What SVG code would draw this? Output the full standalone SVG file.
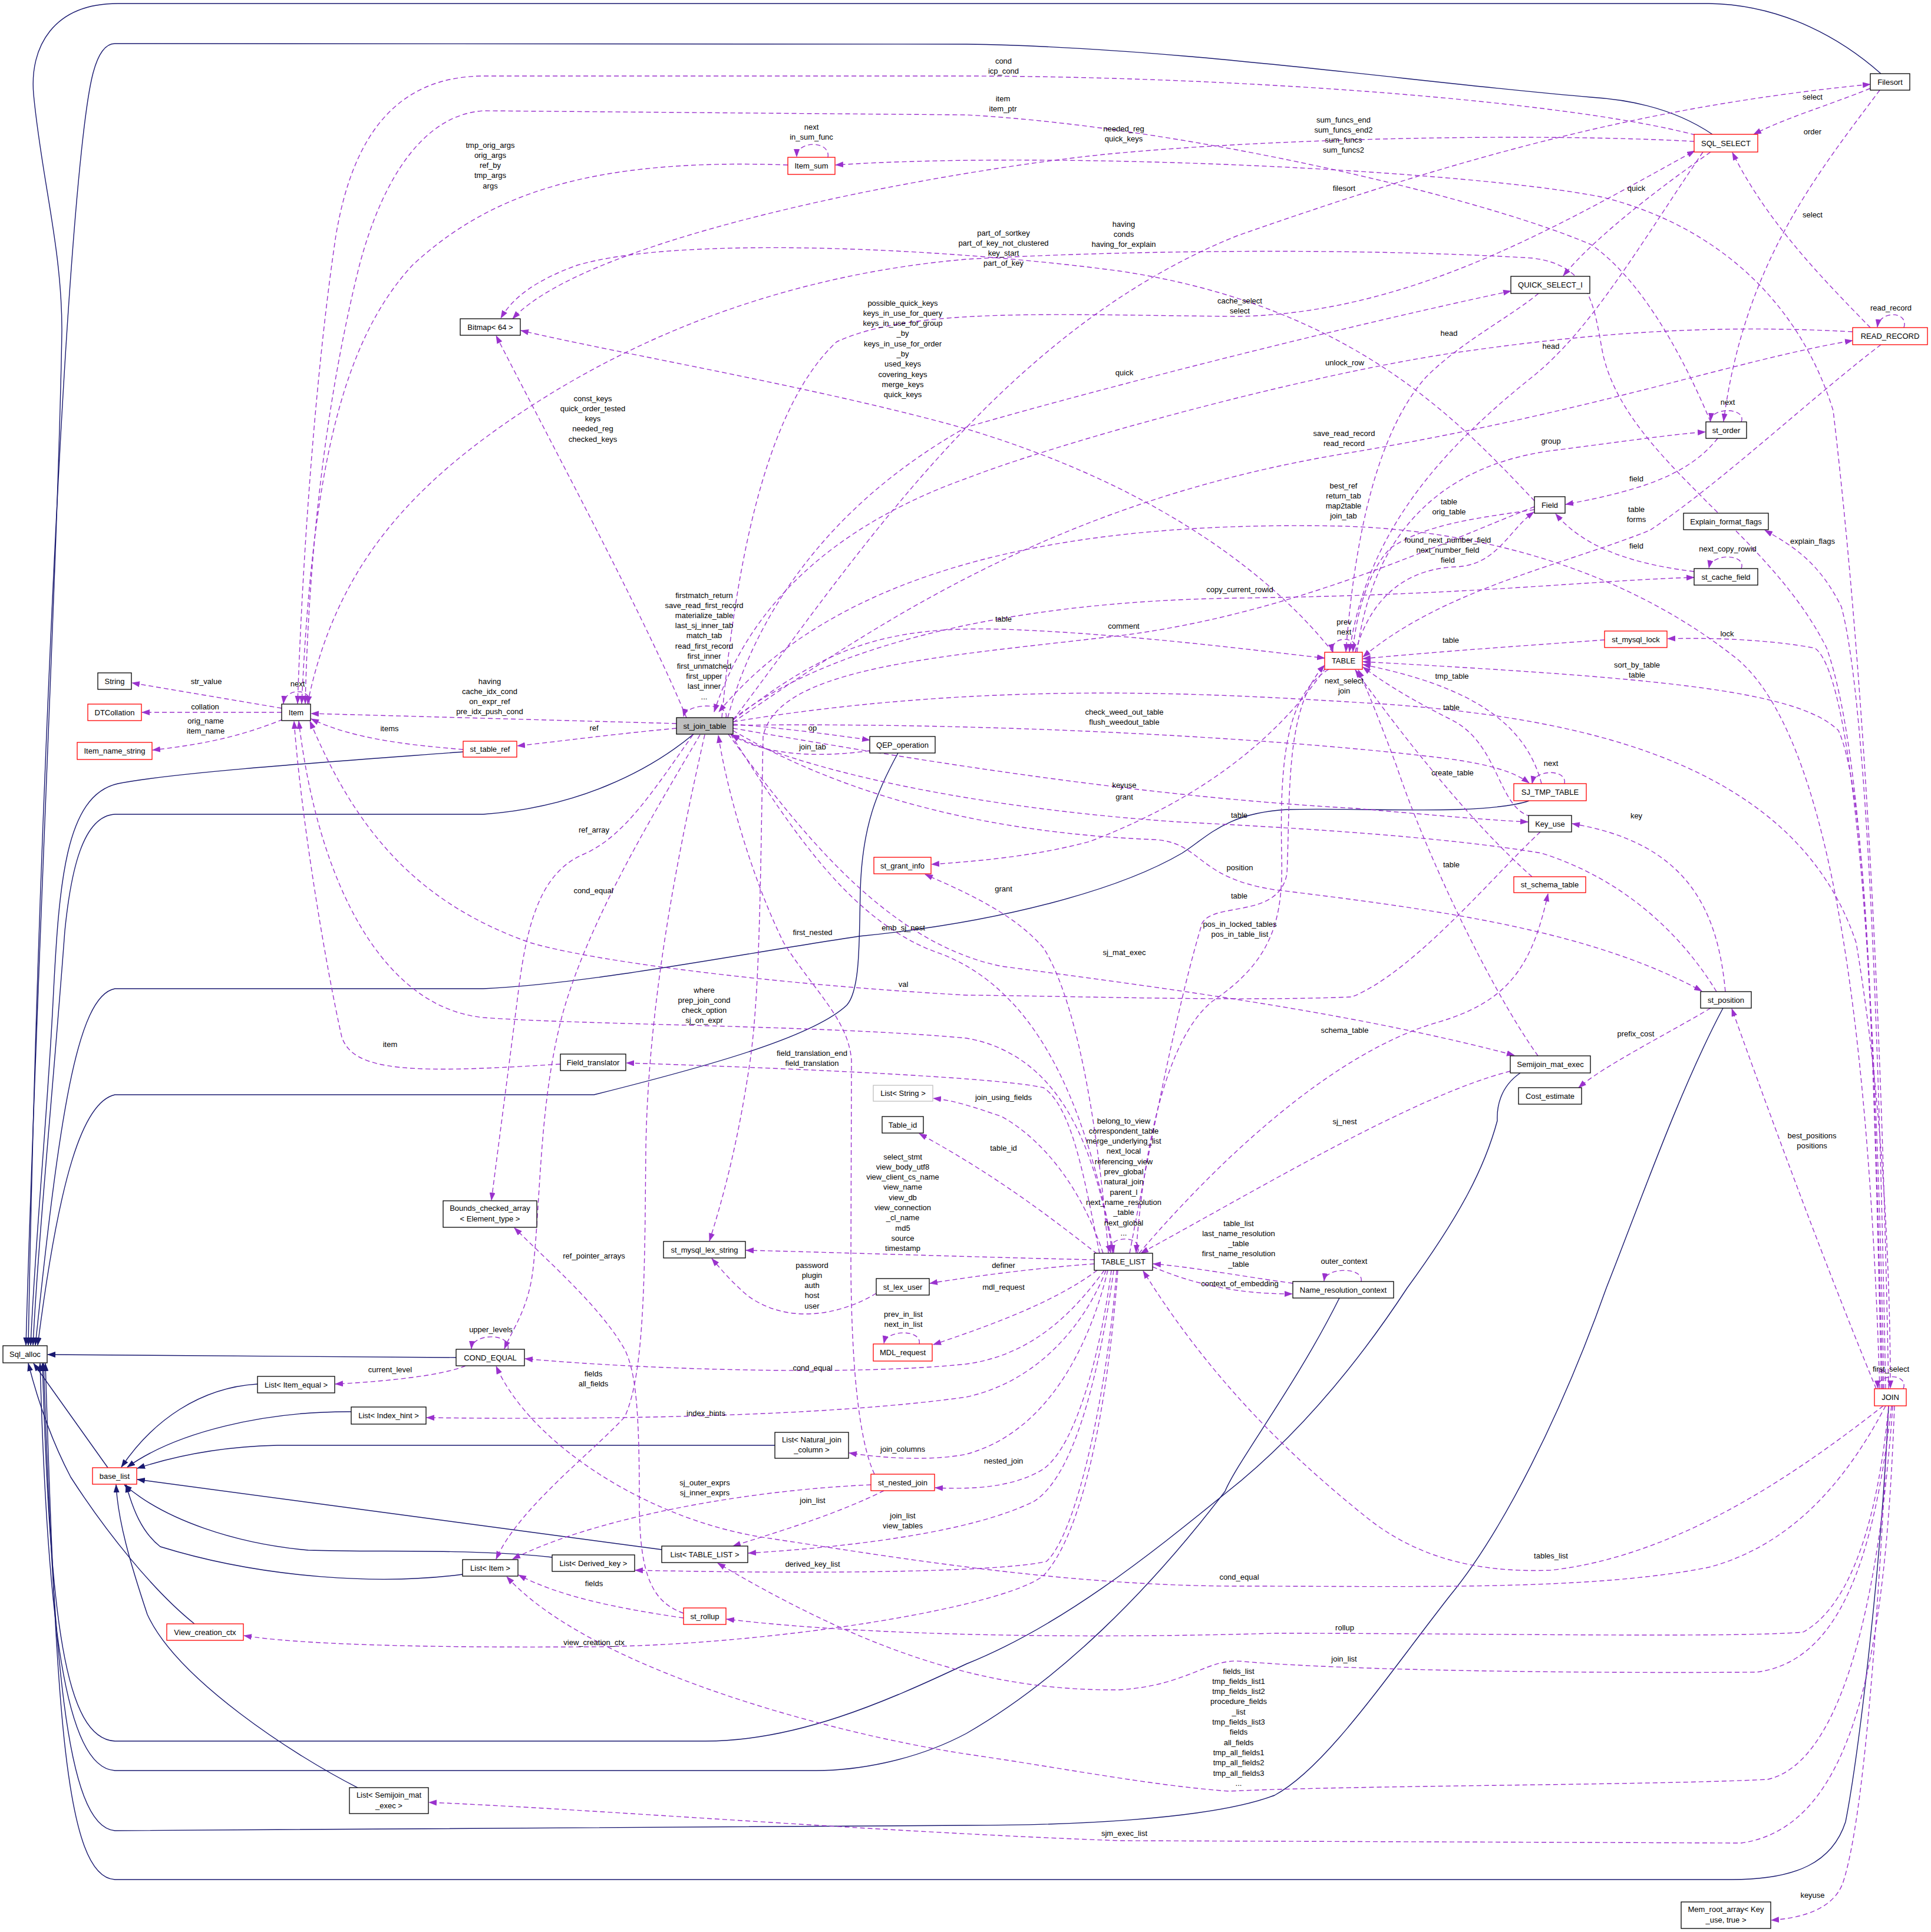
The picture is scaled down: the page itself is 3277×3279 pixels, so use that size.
<svg xmlns="http://www.w3.org/2000/svg" width="3277" height="3279" viewBox="0 0 3277 3279">
<style>
text{font-family:"Liberation Sans",Arial,sans-serif;font-size:13px;fill:#000;text-anchor:middle}
.nb{fill:#fff;stroke:#000;stroke-width:1.3}
.nr{fill:#fff;stroke:#f00;stroke-width:1.3}
.ng{fill:#fff;stroke:#bfbfbf;stroke-width:1.3}
.nf{fill:#bfbfbf;stroke:#000;stroke-width:1.3}
.d{fill:none;stroke:#9a32cd;stroke-width:1.4;stroke-dasharray:8,5;marker-end:url(#ap)}
.s{fill:none;stroke:#191970;stroke-width:1.4;marker-end:url(#an)}
</style>
<defs>
<marker id="ap" markerWidth="14" markerHeight="10" refX="13" refY="5" orient="auto" markerUnits="userSpaceOnUse"><path d="M0,0 L14,5 L0,10 z" fill="#9a32cd" stroke="none"/></marker>
<marker id="an" markerWidth="14" markerHeight="10" refX="13" refY="5" orient="auto" markerUnits="userSpaceOnUse"><path d="M0,0 L14,5 L0,10 z" fill="#191970" stroke="none"/></marker>
</defs>
<rect x="0" y="0" width="3277" height="3279" fill="#fff"/>
<g id="connectors">
<path class="s" d="M 3192 125 C 3130 70, 3030 8, 2900 6 L 200 6 C 90 6, 50 80, 57 160 C 70 300, 105 420, 105 560 C 100 900, 60 1700, 44 2283"/>
<path class="s" d="M 2906 228 C 2850 190, 2780 170, 2700 165 C 2400 140, 2000 80, 1640 75 L 195 74 C 160 74, 150 150, 140 240 C 100 600, 60 1600, 48 2283"/>
<path class="s" d="M 786 1276 C 600 1290, 300 1310, 200 1330 C 110 1350, 100 1500, 90 1700 C 80 1900, 60 2100, 52 2283"/>
<path class="s" d="M 1177 1246 C 1100 1310, 980 1370, 820 1382 L 195 1382 C 140 1385, 120 1480, 110 1580 C 90 1850, 65 2100, 56 2283"/>
<path class="s" d="M 2595 1359 C 2520 1385, 2300 1370, 2184 1374 C 2080 1380, 2050 1420, 2006 1448 C 1900 1510, 1700 1565, 1458 1589 C 1250 1620, 1000 1670, 820 1678 L 195 1678 C 130 1690, 100 1900, 60 2283"/>
<path class="s" d="M 1524 1278 C 1490 1340, 1463 1400, 1460 1511 C 1458 1600, 1460 1680, 1437 1706 C 1380 1760, 1200 1810, 1008 1858 L 195 1858 C 140 1870, 100 2000, 64 2283"/>
<path class="s" d="M 774 2304 L 81 2299"/>
<path class="s" d="M 183 2491 L 57 2314"/>
<path class="s" d="M 330 2756 C 260 2700, 180 2600, 120 2507 C 90 2450, 65 2380, 48 2314"/>
<path class="s" d="M 437 2349 C 340 2355, 260 2410, 206 2490"/>
<path class="s" d="M 596 2396 C 450 2395, 300 2430, 216 2490"/>
<path class="s" d="M 1315 2453 L 471 2453 C 380 2455, 300 2470, 233 2492"/>
<path class="s" d="M 1123 2630 L 233 2511"/>
<path class="s" d="M 937 2643 C 800 2628, 640 2635, 523 2631 C 400 2620, 280 2580, 211 2520"/>
<path class="s" d="M 785 2672 C 650 2690, 450 2680, 272 2625 C 240 2600, 225 2560, 214 2520"/>
<path class="s" d="M 607 3034 C 500 2980, 300 2850, 250 2740 C 220 2650, 200 2580, 197 2520"/>
<path class="s" d="M 2580 1821 C 2545 1845, 2540 1880, 2541 1902 C 2520 1980, 2480 2060, 2388 2186 C 2300 2320, 2200 2440, 2079 2535 C 1950 2640, 1800 2760, 1640 2824 C 1500 2890, 1350 2955, 1197 2955 L 195 2955 C 110 2950, 85 2750, 72 2314"/>
<path class="s" d="M 2273 2203 C 2200 2350, 2100 2480, 2079 2531 C 1950 2700, 1800 2850, 1640 2942 C 1550 2990, 1450 3005, 1385 3005 L 195 3005 C 110 3000, 80 2750, 68 2314"/>
<path class="s" d="M 2924 1711 C 2850 1850, 2780 2050, 2726 2186 C 2650 2400, 2550 2600, 2460 2709 C 2350 2850, 2250 3000, 2163 3047 C 2050 3090, 1800 3098, 1640 3098 L 195 3107 C 110 3100, 90 2800, 74 2314"/>
<path class="s" d="M 3205 2388 C 3190 2700, 3150 3000, 3132 3092 C 3110 3160, 3050 3190, 2939 3190 L 195 3190 C 110 3185, 95 2900, 77 2314"/>

<path class="d" d="M 478 1202 L 224 1159"/>
<path class="d" d="M 478 1209 L 241 1209"/>
<path class="d" d="M 480 1221 C 420 1245, 360 1262, 259 1273"/>
<path class="d" d="M 524 1195 C 532 1168, 484 1166, 481 1194"/>
<path class="d" d="M 786 1272 C 700 1265, 600 1255, 528 1220"/>
<path class="d" d="M 951 1806 C 700 1822, 600 1820, 580 1760 C 555 1650, 512 1400, 499 1224"/>
<path class="d" d="M 790 2318 C 750 2335, 650 2345, 569 2349"/>
<path class="d" d="M 1337 280 C 1000 268, 830 330, 700 450 C 580 580, 530 800, 512 1194"/>
<path class="d" d="M 1148 1228 L 528 1211"/>
<path class="d" d="M 862 2290 C 868 2262, 802 2262, 800 2289"/>
<path class="d" d="M 1165 1218 C 1100 1060, 950 780, 842 570"/>
<path class="d" d="M 1148 1236 C 1050 1245, 950 1258, 878 1266"/>
<path class="d" d="M 1176 1247 C 1110 1340, 1060 1420, 990 1450 C 920 1480, 895 1560, 880 1680 C 865 1800, 845 1950, 834 2037"/>
<path class="d" d="M 1188 1247 C 1110 1380, 1000 1560, 955 1720 C 915 1870, 918 2030, 905 2150 C 898 2220, 870 2255, 856 2289"/>
<path class="d" d="M 1196 1247 C 1150 1450, 1100 1700, 1096 1950 C 1094 2150, 1095 2330, 1060 2405 C 1000 2470, 880 2560, 842 2646"/>
<path class="d" d="M 2262 1107 C 2170 990, 1980 830, 1640 728 C 1400 660, 1050 600, 884 561"/>
<path class="d" d="M 2604 850 C 2480 720, 2300 520, 1900 460 C 1600 420, 1150 400, 980 450 C 910 475, 870 505, 850 540"/>
<path class="d" d="M 2875 240 C 2600 225, 2150 235, 1875 262 C 1600 290, 1000 400, 870 541"/>
<path class="d" d="M 2877 229 C 2650 170, 2100 130, 1640 129 L 820 129 C 680 130, 600 220, 570 400 C 540 600, 515 900, 505 1194"/>
<path class="d" d="M 2903 716 C 2850 590, 2780 470, 2700 415 C 2500 330, 2000 215, 1640 195 L 820 188 C 720 195, 650 300, 610 450 C 560 650, 525 900, 518 1194"/>
<path class="d" d="M 3193 2357 C 3180 1800, 3170 1300, 3100 1100 C 3000 900, 2760 780, 2720 600 C 2705 520, 2700 450, 2600 438 C 2300 420, 1900 425, 1640 440 C 1350 465, 1100 560, 900 690 C 700 820, 570 960, 522 1194"/>
<path class="d" d="M 3205 2357 C 3195 1800, 3170 1200, 3111 697 C 3050 500, 2900 380, 2721 335 C 2500 290, 1800 255, 1418 280"/>
<path class="d" d="M 1244 1222 C 1450 950, 1700 560, 2100 400 C 2500 260, 2800 180, 3174 143"/>
<path class="d" d="M 3174 150 C 3100 180, 3030 200, 2976 228"/>
<path class="d" d="M 3190 153 C 3080 300, 2960 450, 2925 715"/>
<path class="d" d="M 3174 556 C 3100 480, 3000 380, 2940 259"/>
<path class="d" d="M 2903 258 C 2800 330, 2700 410, 2653 468"/>
<path class="d" d="M 3231 556 C 3240 528, 3190 526, 3186 555"/>
<path class="d" d="M 2890 258 C 2780 420, 2700 560, 2600 640 C 2450 760, 2320 900, 2290 1106"/>
<path class="d" d="M 2611 498 C 2560 540, 2480 580, 2420 640 C 2340 730, 2300 900, 2284 1106"/>
<path class="d" d="M 1244 1226 C 1500 1050, 1800 850, 2281 770 C 2700 700, 2950 610, 3144 578"/>
<path class="d" d="M 1225 1218 C 1245 1000, 1290 700, 1420 580 C 1550 520, 1800 535, 2104 537 C 2400 530, 2650 380, 2876 256"/>
<path class="d" d="M 1235 1218 C 1280 1050, 1400 860, 1640 725 C 1900 650, 2300 550, 2564 494"/>
<path class="d" d="M 3190 2357 C 3170 1700, 3100 1250, 2950 1120 C 2750 960, 2500 900, 2280 893 C 1900 885, 1450 930, 1220 1208"/>
<path class="d" d="M 1244 1220 C 1400 1100, 1700 1020, 2104 1015 C 2500 1010, 2700 985, 2875 980"/>
<path class="d" d="M 1244 1222 C 1400 1100, 1500 1062, 1703 1068 C 1900 1075, 2100 1100, 2248 1117"/>
<path class="d" d="M 2604 860 C 2450 920, 2200 1040, 1907 1078 C 1600 1115, 1320 1130, 1295 1250 C 1290 1500, 1290 1700, 1270 1820 C 1250 1950, 1225 2040, 1204 2106"/>
<path class="d" d="M 2300 1107 C 2310 1078, 2255 1078, 2262 1106"/>
<path class="d" d="M 2604 865 C 2500 880, 2420 890, 2360 930 C 2320 970, 2300 1050, 2296 1106"/>
<path class="d" d="M 2300 1107 C 2330 1000, 2400 965, 2470 962 C 2540 960, 2560 900, 2603 869"/>
<path class="d" d="M 2303 1107 C 2330 900, 2450 790, 2632 765 C 2750 750, 2830 738, 2894 733"/>
<path class="d" d="M 2915 744 C 2870 800, 2800 830, 2657 856"/>
<path class="d" d="M 3192 585 C 3080 670, 2920 820, 2800 900 C 2650 960, 2450 1000, 2313 1115"/>
<path class="d" d="M 2875 970 C 2750 955, 2680 920, 2640 872"/>
<path class="d" d="M 2955 965 C 2965 940, 2905 938, 2900 964"/>
<path class="d" d="M 2955 716 C 2965 692, 2905 690, 2903 714"/>
<path class="d" d="M 3200 2357 C 3190 1800, 3170 1200, 3125 1030 C 3090 960, 3050 930, 2995 900"/>
<path class="d" d="M 3197 2357 C 3185 1700, 3150 1150, 3080 1100 C 3000 1085, 2900 1082, 2830 1084"/>
<path class="d" d="M 2723 1086 C 2600 1095, 2450 1105, 2313 1118"/>
<path class="d" d="M 3195 2357 C 3180 1800, 3170 1350, 3120 1240 C 3050 1170, 2800 1150, 2313 1123"/>
<path class="d" d="M 2616 1330 C 2590 1230, 2500 1165, 2313 1128"/>
<path class="d" d="M 2598 1386 C 2540 1370, 2545 1260, 2460 1220 C 2400 1190, 2350 1160, 2313 1132"/>
<path class="d" d="M 2655 1330 C 2660 1305, 2605 1305, 2600 1330"/>
<path class="d" d="M 2600 1488 C 2500 1400, 2380 1250, 2300 1137"/>
<path class="d" d="M 2610 1792 C 2530 1680, 2420 1450, 2370 1300 C 2340 1220, 2320 1170, 2305 1137"/>
<path class="d" d="M 2928 1683 C 2915 1540, 2860 1430, 2668 1398"/>
<path class="d" d="M 2903 1711 C 2820 1760, 2720 1810, 2679 1846"/>
<path class="d" d="M 3184 2357 C 3140 2250, 3060 2050, 2939 1712"/>
<path class="d" d="M 1244 1231 C 1700 1225, 2200 1255, 2460 1288 C 2530 1298, 2570 1310, 2595 1329"/>
<path class="d" d="M 1244 1236 C 1500 1280, 1900 1350, 2300 1372 C 2450 1385, 2530 1392, 2593 1395"/>
<path class="d" d="M 2250 1133 C 2190 1220, 2080 1340, 1850 1428 C 1750 1455, 1650 1462, 1581 1467"/>
<path class="d" d="M 1244 1240 C 1450 1360, 1700 1415, 1960 1425 C 2040 1430, 2030 1490, 2163 1510 C 2450 1545, 2700 1580, 2888 1682"/>
<path class="d" d="M 2913 1683 C 2850 1580, 2750 1490, 2616 1448 C 2450 1420, 2200 1405, 2000 1395 C 1700 1375, 1400 1320, 1241 1247"/>
<path class="d" d="M 1236 1246 C 1350 1400, 1500 1600, 1700 1640 C 2000 1680, 2300 1720, 2570 1791"/>
<path class="d" d="M 1933 2127 C 2050 1990, 2250 1790, 2440 1735 C 2560 1700, 2600 1640, 2627 1517"/>
<path class="d" d="M 2563 1818 C 2400 1860, 2150 2010, 1936 2127"/>
<path class="d" d="M 1240 1246 C 1350 1420, 1450 1570, 1600 1620 C 1750 1680, 1840 1850, 1890 2126"/>
<path class="d" d="M 1484 2502 C 1455 2440, 1445 2300, 1444 2150 L 1445 1800 C 1440 1730, 1380 1680, 1330 1600 C 1280 1500, 1235 1350, 1219 1248"/>
<path class="d" d="M 2614 1412 C 2540 1480, 2400 1650, 2294 1692 C 2100 1700, 1800 1690, 1640 1689 C 1300 1670, 1000 1630, 900 1600 C 700 1530, 600 1400, 526 1224"/>
<path class="d" d="M 1888 2127 C 1860 1950, 1800 1790, 1640 1762 C 1400 1740, 1000 1740, 820 1727 C 650 1710, 540 1500, 507 1224"/>
<path class="d" d="M 1866 2127 C 1840 2000, 1820 1880, 1771 1846 C 1700 1830, 1400 1815, 1063 1804"/>
<path class="d" d="M 1872 2127 C 1840 2030, 1780 1940, 1700 1895 C 1650 1878, 1620 1868, 1584 1864"/>
<path class="d" d="M 1862 2128 C 1800 2080, 1700 2000, 1560 1924"/>
<path class="d" d="M 1930 2127 C 1945 2095, 1875 2095, 1885 2126"/>
<path class="d" d="M 1857 2138 C 1700 2135, 1400 2125, 1266 2122"/>
<path class="d" d="M 1487 2195 C 1430 2230, 1340 2250, 1270 2200 C 1240 2175, 1220 2150, 1208 2136"/>
<path class="d" d="M 1857 2145 C 1760 2152, 1660 2165, 1578 2178"/>
<path class="d" d="M 1862 2156 C 1790 2210, 1680 2250, 1584 2282"/>
<path class="d" d="M 1560 2281 C 1565 2256, 1505 2256, 1500 2280"/>
<path class="d" d="M 2194 2178 C 2100 2165, 2020 2150, 1957 2145"/>
<path class="d" d="M 2310 2175 C 2315 2150, 2250 2150, 2247 2174"/>
<path class="d" d="M 1956 2150 C 2050 2190, 2130 2196, 2193 2196"/>
<path class="d" d="M 1874 2156 C 1820 2230, 1750 2300, 1640 2315 C 1450 2335, 1100 2325, 891 2306"/>
<path class="d" d="M 1877 2156 C 1840 2250, 1760 2345, 1640 2371 C 1400 2405, 1000 2410, 724 2406"/>
<path class="d" d="M 1880 2156 C 1850 2280, 1780 2430, 1640 2468 C 1580 2480, 1500 2475, 1441 2466"/>
<path class="d" d="M 1886 2156 C 1870 2280, 1830 2450, 1771 2493 C 1720 2525, 1650 2528, 1587 2525"/>
<path class="d" d="M 1478 2520 C 1250 2530, 1000 2580, 870 2646"/>
<path class="d" d="M 1500 2530 C 1420 2570, 1320 2600, 1244 2624"/>
<path class="d" d="M 1890 2156 C 1870 2300, 1830 2500, 1755 2548 C 1650 2600, 1450 2625, 1270 2636"/>
<path class="d" d="M 1895 2156 C 1880 2350, 1830 2600, 1776 2650 C 1700 2668, 1400 2672, 1078 2665"/>
<path class="d" d="M 1160 2746 C 1050 2730, 950 2710, 880 2673"/>
<path class="d" d="M 1897 2156 C 1880 2380, 1840 2600, 1771 2674 C 1700 2730, 1300 2793, 1000 2795 C 700 2797, 500 2790, 414 2776"/>
<path class="d" d="M 1160 2738 C 1110 2720, 1085 2680, 1085 2550 C 1085 2400, 1080 2330, 1060 2290 C 1020 2220, 940 2150, 873 2084"/>
<path class="d" d="M 3200 2386 C 3140 2500, 3050 2620, 2900 2660 C 2700 2700, 2400 2692, 2103 2692 C 1800 2692, 1500 2640, 1300 2610 C 1100 2580, 900 2450, 842 2319"/>
<path class="d" d="M 3196 2386 C 3050 2500, 2850 2640, 2632 2665 C 2500 2670, 2400 2640, 2320 2576 C 2200 2480, 2060 2350, 1940 2157"/>
<path class="d" d="M 3205 2386 C 3190 2550, 3150 2720, 3060 2770 C 2950 2780, 2500 2772, 2163 2772 C 1900 2780, 1500 2780, 1233 2748"/>
<path class="d" d="M 3210 2386 C 3180 2650, 3120 2820, 2981 2838 C 2700 2840, 2300 2836, 2111 2820 C 2050 2812, 2020 2860, 1900 2868 C 1700 2870, 1500 2820, 1218 2653"/>
<path class="d" d="M 3212 2386 C 3190 2700, 3130 2990, 3000 3020 C 2800 3030, 2300 3030, 2085 3040 C 1950 3030, 1800 3000, 1640 2977 C 1400 2940, 1000 2830, 860 2676"/>
<path class="d" d="M 3215 2386 C 3200 2800, 3150 3100, 2955 3128 L 1901 3124 C 1500 3110, 1000 3070, 728 3059"/>
<path class="d" d="M 3230 2357 C 3240 2330, 3185 2330, 3187 2356"/>
<path class="d" d="M 3205 2386 C 3185 2800, 3160 3100, 3127 3197 C 3110 3240, 3060 3255, 3006 3259"/>
<path class="d" d="M 1881 2127 C 1870 1990, 1840 1720, 1771 1609 C 1720 1550, 1640 1515, 1570 1484"/>
<path class="d" d="M 1244 1229 C 1320 1235, 1400 1245, 1476 1256"/>
<path class="d" d="M 1476 1274 C 1400 1285, 1300 1285, 1242 1247"/>
<path class="d" d="M 1405 267 C 1410 238, 1352 238, 1352 266"/>
<path class="d" d="M 1232 1218 C 1240 1192, 1165 1192, 1160 1216"/>
<path class="d" d="M 1917 2127 C 1960 1900, 2000 1700, 2040 1567 C 2060 1530, 2170 1560, 2184 1483 C 2190 1350, 2180 1200, 2248 1129"/>
<path class="d" d="M 2255 1136 C 2180 1180, 2172 1300, 2175 1450 C 2178 1560, 2160 1630, 2058 1699 C 1980 1760, 1940 1950, 1928 2126"/>
<path class="d" d="M 3144 563 C 2900 550, 2700 565, 2460 600 C 2200 640, 1800 750, 1640 812 C 1450 880, 1280 1000, 1212 1208"/>
<path class="d" d="M 1244 1225 C 1700 1150, 2100 1180, 2350 1195 C 2700 1220, 3050 1300, 3150 1600 C 3200 1900, 3208 2200, 3208 2356"/>
</g>
<g id="edge-labels">
<text x="350" y="1160.5">str_value</text>
<text x="348" y="1203.5">collation</text>
<text x="349" y="1227.5"><tspan x="349">orig_name</tspan><tspan x="349" dy="17.3">item_name</tspan></text>
<text x="505" y="1164.5">next</text>
<text x="661" y="1240.5">items</text>
<text x="662" y="1776.5">item</text>
<text x="662" y="2328.5">current_level</text>
<text x="832" y="250.5"><tspan x="832">tmp_orig_args</tspan><tspan x="832" dy="17.3">orig_args</tspan><tspan x="832" dy="17.3">ref_by</tspan><tspan x="832" dy="17.3">tmp_args</tspan><tspan x="832" dy="17.3">args</tspan></text>
<text x="831" y="1160.5"><tspan x="831">having</tspan><tspan x="831" dy="17.3">cache_idx_cond</tspan><tspan x="831" dy="17.3">on_expr_ref</tspan><tspan x="831" dy="17.3">pre_idx_push_cond</tspan></text>
<text x="833" y="2260.5">upper_levels</text>
<text x="1006" y="680.5"><tspan x="1006">const_keys</tspan><tspan x="1006" dy="17.3">quick_order_tested</tspan><tspan x="1006" dy="17.3">keys</tspan><tspan x="1006" dy="17.3">needed_reg</tspan><tspan x="1006" dy="17.3">checked_keys</tspan></text>
<text x="1008" y="1239.5">ref</text>
<text x="1008" y="1412.5">ref_array</text>
<text x="1007" y="1515.5">cond_equal</text>
<text x="1007" y="2335.5"><tspan x="1007">fields</tspan><tspan x="1007" dy="17.3">all_fields</tspan></text>
<text x="1532" y="518.5"><tspan x="1532">possible_quick_keys</tspan><tspan x="1532" dy="17.3">keys_in_use_for_query</tspan><tspan x="1532" dy="17.3">keys_in_use_for_group</tspan><tspan x="1532" dy="17.3">_by</tspan><tspan x="1532" dy="17.3">keys_in_use_for_order</tspan><tspan x="1532" dy="17.3">_by</tspan><tspan x="1532" dy="17.3">used_keys</tspan><tspan x="1532" dy="17.3">covering_keys</tspan><tspan x="1532" dy="17.3">merge_keys</tspan><tspan x="1532" dy="17.3">quick_keys</tspan></text>
<text x="1703" y="399.5"><tspan x="1703">part_of_sortkey</tspan><tspan x="1703" dy="17.3">part_of_key_not_clustered</tspan><tspan x="1703" dy="17.3">key_start</tspan><tspan x="1703" dy="17.3">part_of_key</tspan></text>
<text x="1907" y="222.5"><tspan x="1907">needed_reg</tspan><tspan x="1907" dy="17.3">quick_keys</tspan></text>
<text x="1703" y="107.5"><tspan x="1703">cond</tspan><tspan x="1703" dy="17.3">icp_cond</tspan></text>
<text x="1702" y="171.5"><tspan x="1702">item</tspan><tspan x="1702" dy="17.3">item_ptr</tspan></text>
<text x="1907" y="384.5"><tspan x="1907">having</tspan><tspan x="1907" dy="17.3">conds</tspan><tspan x="1907" dy="17.3">having_for_explain</tspan></text>
<text x="2280" y="207.5"><tspan x="2280">sum_funcs_end</tspan><tspan x="2280" dy="17.3">sum_funcs_end2</tspan><tspan x="2280" dy="17.3">sum_funcs</tspan><tspan x="2280" dy="17.3">sum_funcs2</tspan></text>
<text x="2281" y="323.5">filesort</text>
<text x="3076" y="168.5">select</text>
<text x="3076" y="227.5">order</text>
<text x="3076" y="368.5">select</text>
<text x="2777" y="323.5">quick</text>
<text x="3209" y="526.5">read_record</text>
<text x="2632" y="591.5">head</text>
<text x="2459" y="569.5">head</text>
<text x="2282" y="619.5">unlock_row</text>
<text x="2281" y="739.5"><tspan x="2281">save_read_record</tspan><tspan x="2281" dy="17.3">read_record</tspan></text>
<text x="2104" y="514.5"><tspan x="2104">cache_select</tspan><tspan x="2104" dy="17.3">select</tspan></text>
<text x="1908" y="636.5">quick</text>
<text x="2280" y="828.5"><tspan x="2280">best_ref</tspan><tspan x="2280" dy="17.3">return_tab</tspan><tspan x="2280" dy="17.3">map2table</tspan><tspan x="2280" dy="17.3">join_tab</tspan></text>
<text x="2104" y="1004.5">copy_current_rowid</text>
<text x="1703" y="1054.5">table</text>
<text x="1907" y="1066.5">comment</text>
<text x="2281" y="1059.5"><tspan x="2281">prev</tspan><tspan x="2281" dy="17.3">next</tspan></text>
<text x="2459" y="855.5"><tspan x="2459">table</tspan><tspan x="2459" dy="17.3">orig_table</tspan></text>
<text x="2457" y="920.5"><tspan x="2457">found_next_number_field</tspan><tspan x="2457" dy="17.3">next_number_field</tspan><tspan x="2457" dy="17.3">field</tspan></text>
<text x="2632" y="752.5">group</text>
<text x="2777" y="816.5">field</text>
<text x="2777" y="868.5"><tspan x="2777">table</tspan><tspan x="2777" dy="17.3">forms</tspan></text>
<text x="2777" y="930.5">field</text>
<text x="2932" y="935.5">next_copy_rowid</text>
<text x="2932" y="686.5">next</text>
<text x="3076" y="922.5">explain_flags</text>
<text x="2931" y="1079.5">lock</text>
<text x="2462" y="1090.5">table</text>
<text x="2778" y="1132.5"><tspan x="2778">sort_by_table</tspan><tspan x="2778" dy="17.3">table</tspan></text>
<text x="2464" y="1151.5">tmp_table</text>
<text x="2281" y="1159.5"><tspan x="2281">next_select</tspan><tspan x="2281" dy="17.3">join</tspan></text>
<text x="2463" y="1204.5">table</text>
<text x="2632" y="1299.5">next</text>
<text x="2465" y="1315.5">create_table</text>
<text x="2463" y="1471.5">table</text>
<text x="2777" y="1388.5">key</text>
<text x="2776" y="1758.5">prefix_cost</text>
<text x="3075" y="1931.5"><tspan x="3075">best_positions</tspan><tspan x="3075" dy="17.3">positions</tspan></text>
<text x="1908" y="1212.5"><tspan x="1908">check_weed_out_table</tspan><tspan x="1908" dy="17.3">flush_weedout_table</tspan></text>
<text x="1908" y="1336.5">keyuse</text>
<text x="1908" y="1356.5">grant</text>
<text x="2103" y="1387.5">table</text>
<text x="2104" y="1476.5">position</text>
<text x="2103" y="1524.5">table</text>
<text x="2104" y="1572.5"><tspan x="2104">pos_in_locked_tables</tspan><tspan x="2104" dy="17.3">pos_in_table_list</tspan></text>
<text x="1703" y="1512.5">grant</text>
<text x="1908" y="1620.5">sj_mat_exec</text>
<text x="2282" y="1752.5">schema_table</text>
<text x="2282" y="1907.5">sj_nest</text>
<text x="1533" y="1578.5">emb_sj_nest</text>
<text x="1379" y="1586.5">first_nested</text>
<text x="1533" y="1674.5">val</text>
<text x="1195" y="1684.5"><tspan x="1195">where</tspan><tspan x="1195" dy="17.3">prep_join_cond</tspan><tspan x="1195" dy="17.3">check_option</tspan><tspan x="1195" dy="17.3">sj_on_expr</tspan></text>
<text x="1378" y="1791.5"><tspan x="1378">field_translation_end</tspan><tspan x="1378" dy="17.3">field_translation</tspan></text>
<text x="1703" y="1866.5">join_using_fields</text>
<text x="1703" y="1952.5">table_id</text>
<text x="1907" y="1906.5"><tspan x="1907">belong_to_view</tspan><tspan x="1907" dy="17.3">correspondent_table</tspan><tspan x="1907" dy="17.3">merge_underlying_list</tspan><tspan x="1907" dy="17.3">next_local</tspan><tspan x="1907" dy="17.3">referencing_view</tspan><tspan x="1907" dy="17.3">prev_global</tspan><tspan x="1907" dy="17.3">natural_join</tspan><tspan x="1907" dy="17.3">parent_l</tspan><tspan x="1907" dy="17.3">next_name_resolution</tspan><tspan x="1907" dy="17.3">_table</tspan><tspan x="1907" dy="17.3">next_global</tspan><tspan x="1907" dy="17.3">...</tspan></text>
<text x="1532" y="1967.5"><tspan x="1532">select_stmt</tspan><tspan x="1532" dy="17.3">view_body_utf8</tspan><tspan x="1532" dy="17.3">view_client_cs_name</tspan><tspan x="1532" dy="17.3">view_name</tspan><tspan x="1532" dy="17.3">view_db</tspan><tspan x="1532" dy="17.3">view_connection</tspan><tspan x="1532" dy="17.3">_cl_name</tspan><tspan x="1532" dy="17.3">md5</tspan><tspan x="1532" dy="17.3">source</tspan><tspan x="1532" dy="17.3">timestamp</tspan></text>
<text x="1378" y="2151.5"><tspan x="1378">password</tspan><tspan x="1378" dy="17.3">plugin</tspan><tspan x="1378" dy="17.3">auth</tspan><tspan x="1378" dy="17.3">host</tspan><tspan x="1378" dy="17.3">user</tspan></text>
<text x="1703" y="2151.5">definer</text>
<text x="1703" y="2188.5">mdl_request</text>
<text x="1533" y="2234.5"><tspan x="1533">prev_in_list</tspan><tspan x="1533" dy="17.3">next_in_list</tspan></text>
<text x="2102" y="2080.5"><tspan x="2102">table_list</tspan><tspan x="2102" dy="17.3">last_name_resolution</tspan><tspan x="2102" dy="17.3">_table</tspan><tspan x="2102" dy="17.3">first_name_resolution</tspan><tspan x="2102" dy="17.3">_table</tspan></text>
<text x="2281" y="2144.5">outer_context</text>
<text x="2104" y="2182.5">context_of_embedding</text>
<text x="1379" y="2325.5">cond_equal</text>
<text x="1198" y="2402.5">index_hints</text>
<text x="1532" y="2463.5">join_columns</text>
<text x="1703" y="2483.5">nested_join</text>
<text x="1196" y="2520.5"><tspan x="1196">sj_outer_exprs</tspan><tspan x="1196" dy="17.3">sj_inner_exprs</tspan></text>
<text x="1379" y="2550.5">join_list</text>
<text x="1532" y="2576.5"><tspan x="1532">join_list</tspan><tspan x="1532" dy="17.3">view_tables</tspan></text>
<text x="1379" y="2658.5">derived_key_list</text>
<text x="1008" y="2691.5">fields</text>
<text x="1008" y="2791.5">view_creation_ctx</text>
<text x="1008" y="2135.5">ref_pointer_arrays</text>
<text x="2103" y="2680.5">cond_equal</text>
<text x="2632" y="2644.5">tables_list</text>
<text x="2282" y="2766.5">rollup</text>
<text x="2281" y="2819.5">join_list</text>
<text x="2102" y="2840.5"><tspan x="2102">fields_list</tspan><tspan x="2102" dy="17.3">tmp_fields_list1</tspan><tspan x="2102" dy="17.3">tmp_fields_list2</tspan><tspan x="2102" dy="17.3">procedure_fields</tspan><tspan x="2102" dy="17.3">_list</tspan><tspan x="2102" dy="17.3">tmp_fields_list3</tspan><tspan x="2102" dy="17.3">fields</tspan><tspan x="2102" dy="17.3">all_fields</tspan><tspan x="2102" dy="17.3">tmp_all_fields1</tspan><tspan x="2102" dy="17.3">tmp_all_fields2</tspan><tspan x="2102" dy="17.3">tmp_all_fields3</tspan><tspan x="2102" dy="17.3">...</tspan></text>
<text x="1908" y="3115.5">sjm_exec_list</text>
<text x="3209" y="2327.5">first_select</text>
<text x="3076" y="3220.5">keyuse</text>
<text x="1379" y="1239.5">op</text>
<text x="1379" y="1271.5">join_tab</text>
<text x="1377" y="219.5"><tspan x="1377">next</tspan><tspan x="1377" dy="17.3">in_sum_func</tspan></text>
<text x="1195" y="1014.5"><tspan x="1195">firstmatch_return</tspan><tspan x="1195" dy="17.2">save_read_first_record</tspan><tspan x="1195" dy="17.2">materialize_table</tspan><tspan x="1195" dy="17.2">last_sj_inner_tab</tspan><tspan x="1195" dy="17.2">match_tab</tspan><tspan x="1195" dy="17.2">read_first_record</tspan><tspan x="1195" dy="17.2">first_inner</tspan><tspan x="1195" dy="17.2">first_unmatched</tspan><tspan x="1195" dy="17.2">first_upper</tspan><tspan x="1195" dy="17.2">last_inner</tspan><tspan x="1195" dy="17.2">...</tspan></text>
</g>
<g id="node-st_join_table"><rect class="nf" x="1148" y="1218" width="96" height="28"/><text x="1196" y="1236.5">st_join_table</text></g>
<g id="node-Item"><rect class="nb" x="478" y="1195" width="49" height="28"/><text x="502.5" y="1213.5">Item</text></g>
<g id="node-String"><rect class="nb" x="166" y="1142" width="57" height="28"/><text x="194.5" y="1160.5">String</text></g>
<g id="node-DTCollation"><rect class="nr" x="149" y="1195" width="91" height="28"/><text x="194.5" y="1213.5">DTCollation</text></g>
<g id="node-Item_name_string"><rect class="nr" x="131" y="1260" width="127" height="29"/><text x="194.5" y="1279">Item_name_string</text></g>
<g id="node-Item_sum"><rect class="nr" x="1337" y="267" width="80" height="29"/><text x="1377" y="286">Item_sum</text></g>
<g id="node-Bitmap"><rect class="nb" x="781" y="541" width="102" height="28"/><text x="832" y="559.5">Bitmap&lt; 64 &gt;</text></g>
<g id="node-st_table_ref"><rect class="nr" x="786" y="1258" width="91" height="27"/><text x="831.5" y="1276">st_table_ref</text></g>
<g id="node-QEP_operation"><rect class="nb" x="1476" y="1250" width="111" height="28"/><text x="1531.5" y="1268.5">QEP_operation</text></g>
<g id="node-st_grant_info"><rect class="nr" x="1483" y="1455" width="97" height="28"/><text x="1531.5" y="1473.5">st_grant_info</text></g>
<g id="node-Field_translator"><rect class="nb" x="951" y="1789" width="111" height="28"/><text x="1006.5" y="1807.5">Field_translator</text></g>
<g id="node-List_String"><rect class="ng" x="1482" y="1842" width="101" height="27"/><text x="1532.5" y="1860">List&lt; String &gt;</text></g>
<g id="node-Table_id"><rect class="nb" x="1497" y="1895" width="70" height="28"/><text x="1532" y="1913.5">Table_id</text></g>
<g id="node-Bounds_checked_array"><rect class="nb" x="752" y="2038" width="159" height="45"/><text x="831.5" y="2054.5"><tspan x="831.5">Bounds_checked_array</tspan><tspan x="831.5" dy="18">&lt; Element_type &gt;</tspan></text></g>
<g id="node-st_mysql_lex_string"><rect class="nb" x="1126" y="2107" width="139" height="28"/><text x="1195.5" y="2125.5">st_mysql_lex_string</text></g>
<g id="node-st_lex_user"><rect class="nb" x="1487" y="2170" width="90" height="28"/><text x="1532" y="2188.5">st_lex_user</text></g>
<g id="node-TABLE_LIST"><rect class="nb" x="1857" y="2127" width="99" height="29"/><text x="1906.5" y="2146">TABLE_LIST</text></g>
<g id="node-Name_resolution_context"><rect class="nb" x="2194" y="2175" width="171" height="28"/><text x="2279.5" y="2193.5">Name_resolution_context</text></g>
<g id="node-MDL_request"><rect class="nr" x="1482" y="2281" width="100" height="29"/><text x="1532" y="2300">MDL_request</text></g>
<g id="node-COND_EQUAL"><rect class="nb" x="774" y="2290" width="116" height="28"/><text x="832" y="2308.5">COND_EQUAL</text></g>
<g id="node-Sql_alloc"><rect class="nb" x="5" y="2284" width="75" height="29"/><text x="42.5" y="2303">Sql_alloc</text></g>
<g id="node-List_Item_equal"><rect class="nb" x="437" y="2336" width="131" height="28"/><text x="502.5" y="2354.5">List&lt; Item_equal &gt;</text></g>
<g id="node-List_Index_hint"><rect class="nb" x="596" y="2388" width="127" height="29"/><text x="659.5" y="2407">List&lt; Index_hint &gt;</text></g>
<g id="node-base_list"><rect class="nr" x="157" y="2491" width="75" height="28"/><text x="194.5" y="2509.5">base_list</text></g>
<g id="node-List_Natural_join_column"><rect class="nb" x="1315" y="2431" width="125" height="44"/><text x="1377.5" y="2447.5"><tspan x="1377.5">List&lt; Natural_join</tspan><tspan x="1377.5" dy="17.3">_column &gt;</tspan></text></g>
<g id="node-st_nested_join"><rect class="nr" x="1478" y="2502" width="108" height="28"/><text x="1532" y="2520.5">st_nested_join</text></g>
<g id="node-List_TABLE_LIST"><rect class="nb" x="1123" y="2624" width="146" height="28"/><text x="1196" y="2642.5">List&lt; TABLE_LIST &gt;</text></g>
<g id="node-List_Derived_key"><rect class="nb" x="937" y="2639" width="140" height="28"/><text x="1007" y="2657.5">List&lt; Derived_key &gt;</text></g>
<g id="node-List_Item"><rect class="nb" x="785" y="2647" width="94" height="28"/><text x="832" y="2665.5">List&lt; Item &gt;</text></g>
<g id="node-st_rollup"><rect class="nr" x="1160" y="2729" width="72" height="28"/><text x="1196" y="2747.5">st_rollup</text></g>
<g id="node-View_creation_ctx"><rect class="nr" x="283" y="2756" width="130" height="28"/><text x="348" y="2774.5">View_creation_ctx</text></g>
<g id="node-List_Semijoin_mat_exec"><rect class="nb" x="593" y="3034" width="134" height="44"/><text x="660" y="3050.5"><tspan x="660">List&lt; Semijoin_mat</tspan><tspan x="660" dy="18">_exec &gt;</tspan></text></g>
<g id="node-TABLE"><rect class="nr" x="2248" y="1107" width="64" height="29"/><text x="2280" y="1126">TABLE</text></g>
<g id="node-SJ_TMP_TABLE"><rect class="nr" x="2569" y="1330" width="123" height="29"/><text x="2630.5" y="1349">SJ_TMP_TABLE</text></g>
<g id="node-Key_use"><rect class="nb" x="2594" y="1384" width="73" height="28"/><text x="2630.5" y="1402.5">Key_use</text></g>
<g id="node-st_schema_table"><rect class="nr" x="2569" y="1488" width="122" height="27"/><text x="2630" y="1506">st_schema_table</text></g>
<g id="node-st_position"><rect class="nb" x="2886" y="1683" width="86" height="28"/><text x="2929" y="1701.5">st_position</text></g>
<g id="node-Semijoin_mat_exec"><rect class="nb" x="2563" y="1792" width="136" height="29"/><text x="2631" y="1811">Semijoin_mat_exec</text></g>
<g id="node-Cost_estimate"><rect class="nb" x="2577" y="1846" width="107" height="28"/><text x="2630.5" y="1864.5">Cost_estimate</text></g>
<g id="node-Filesort"><rect class="nb" x="3174" y="125" width="67" height="28"/><text x="3207.5" y="143.5">Filesort</text></g>
<g id="node-SQL_SELECT"><rect class="nr" x="2875" y="228" width="108" height="30"/><text x="2929" y="247.5">SQL_SELECT</text></g>
<g id="node-QUICK_SELECT_I"><rect class="nb" x="2564" y="469" width="134" height="29"/><text x="2631" y="488">QUICK_SELECT_I</text></g>
<g id="node-READ_RECORD"><rect class="nr" x="3144" y="556" width="127" height="29"/><text x="3207.5" y="575">READ_RECORD</text></g>
<g id="node-st_order"><rect class="nb" x="2895" y="716" width="69" height="28"/><text x="2929.5" y="734.5">st_order</text></g>
<g id="node-Field"><rect class="nb" x="2604" y="843" width="52" height="28"/><text x="2630" y="861.5">Field</text></g>
<g id="node-Explain_format_flags"><rect class="nb" x="2857" y="871" width="144" height="28"/><text x="2929" y="889.5">Explain_format_flags</text></g>
<g id="node-st_cache_field"><rect class="nb" x="2875" y="965" width="108" height="28"/><text x="2929" y="983.5">st_cache_field</text></g>
<g id="node-st_mysql_lock"><rect class="nr" x="2723" y="1071" width="106" height="28"/><text x="2776" y="1089.5">st_mysql_lock</text></g>
<g id="node-JOIN"><rect class="nr" x="3181" y="2357" width="54" height="29"/><text x="3208" y="2376">JOIN</text></g>
<g id="node-Mem_root_array"><rect class="nb" x="2853" y="3228" width="152" height="45"/><text x="2929" y="3244.5"><tspan x="2929">Mem_root_array&lt; Key</tspan><tspan x="2929" dy="18">_use, true &gt;</tspan></text></g>
</svg>
